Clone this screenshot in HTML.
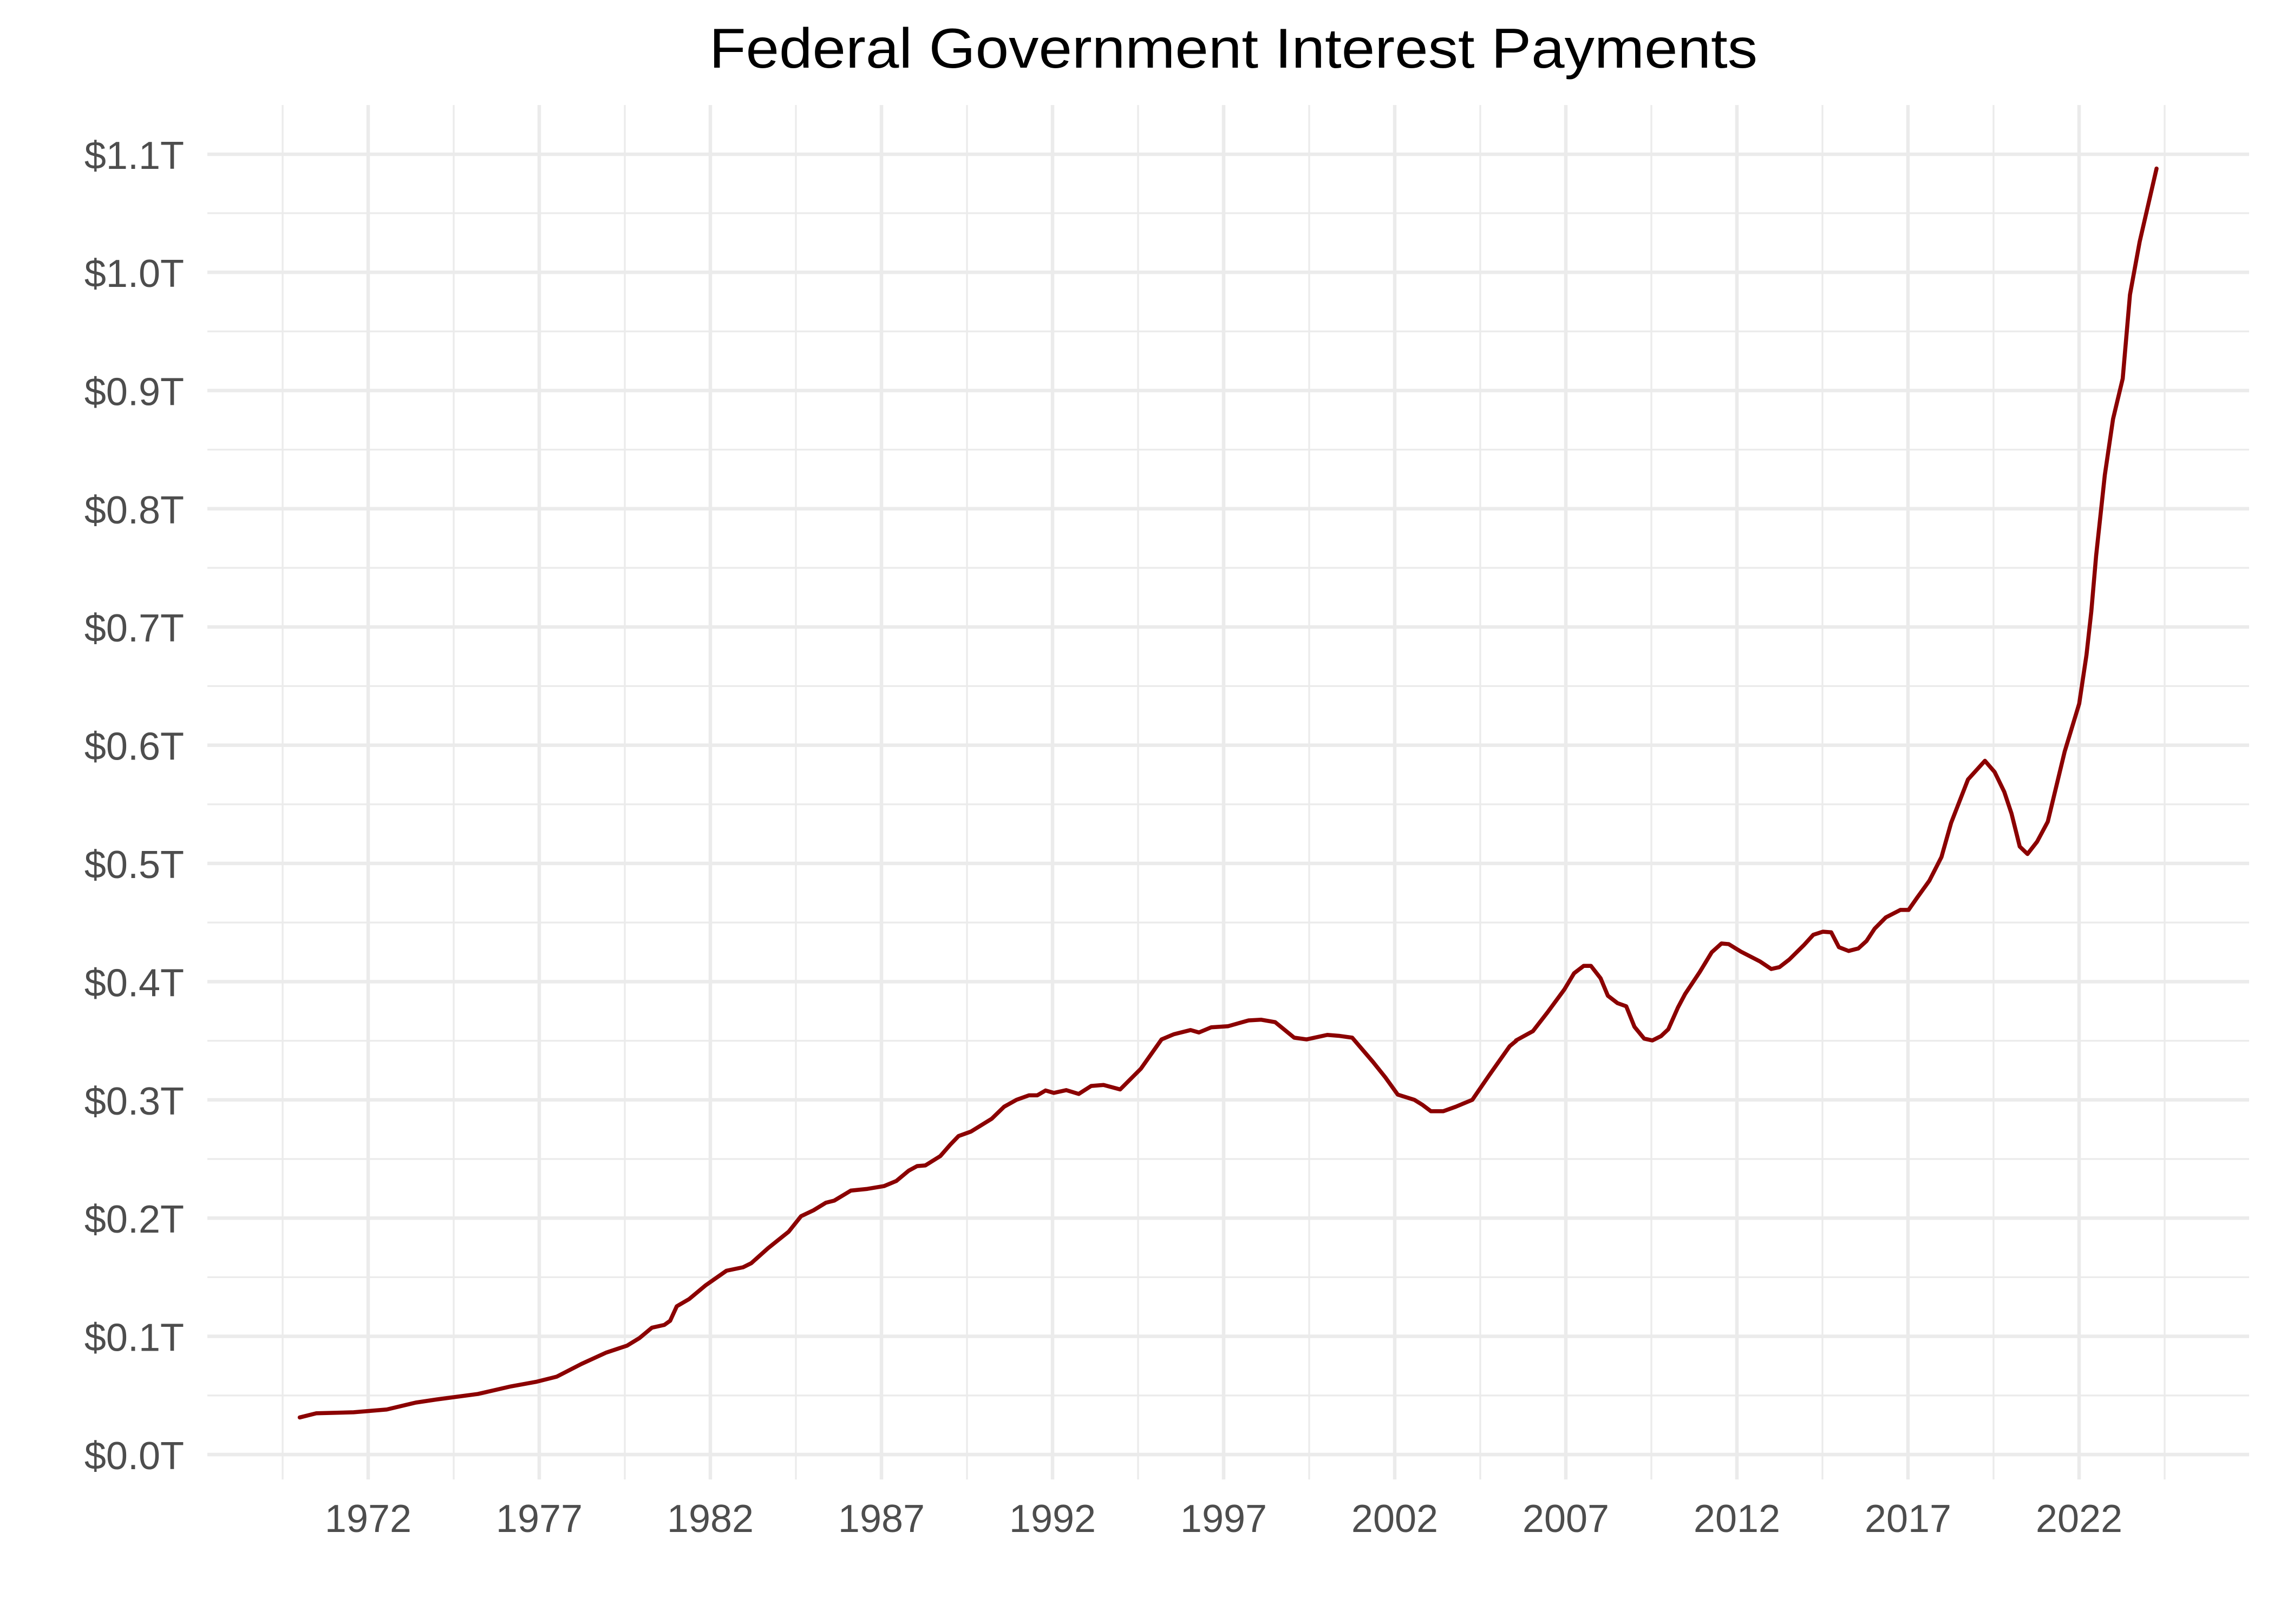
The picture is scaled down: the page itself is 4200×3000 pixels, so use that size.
<!DOCTYPE html>
<html><head><meta charset="utf-8"><style>
html,body{margin:0;padding:0;background:#fff;}
svg{display:block;}
</style></head><body>
<svg xmlns="http://www.w3.org/2000/svg" width="4200" height="3000" viewBox="0 0 4200 3000">
<rect width="4200" height="3000" fill="#fff"/>
<g stroke="#ebebeb" fill="none">
<g stroke-width="3.3">
<line x1="383" x2="4154" y1="2577.8" y2="2577.8"/>
<line x1="383" x2="4154" y1="2359.4" y2="2359.4"/>
<line x1="383" x2="4154" y1="2141" y2="2141"/>
<line x1="383" x2="4154" y1="1922.6" y2="1922.6"/>
<line x1="383" x2="4154" y1="1704.2" y2="1704.2"/>
<line x1="383" x2="4154" y1="1485.8" y2="1485.8"/>
<line x1="383" x2="4154" y1="1267.4" y2="1267.4"/>
<line x1="383" x2="4154" y1="1049" y2="1049"/>
<line x1="383" x2="4154" y1="830.6" y2="830.6"/>
<line x1="383" x2="4154" y1="612.2" y2="612.2"/>
<line x1="383" x2="4154" y1="393.8" y2="393.8"/>
<line y1="194" y2="2733" x1="522" x2="522"/>
<line y1="194" y2="2733" x1="838" x2="838"/>
<line y1="194" y2="2733" x1="1154" x2="1154"/>
<line y1="194" y2="2733" x1="1470" x2="1470"/>
<line y1="194" y2="2733" x1="1786" x2="1786"/>
<line y1="194" y2="2733" x1="2102" x2="2102"/>
<line y1="194" y2="2733" x1="2418" x2="2418"/>
<line y1="194" y2="2733" x1="2734" x2="2734"/>
<line y1="194" y2="2733" x1="3050" x2="3050"/>
<line y1="194" y2="2733" x1="3366" x2="3366"/>
<line y1="194" y2="2733" x1="3682" x2="3682"/>
<line y1="194" y2="2733" x1="3998" x2="3998"/>
</g>
<g stroke-width="6.5">
<line x1="383" x2="4154" y1="2687" y2="2687"/>
<line x1="383" x2="4154" y1="2468.6" y2="2468.6"/>
<line x1="383" x2="4154" y1="2250.2" y2="2250.2"/>
<line x1="383" x2="4154" y1="2031.8" y2="2031.8"/>
<line x1="383" x2="4154" y1="1813.4" y2="1813.4"/>
<line x1="383" x2="4154" y1="1595" y2="1595"/>
<line x1="383" x2="4154" y1="1376.6" y2="1376.6"/>
<line x1="383" x2="4154" y1="1158.2" y2="1158.2"/>
<line x1="383" x2="4154" y1="939.8" y2="939.8"/>
<line x1="383" x2="4154" y1="721.4" y2="721.4"/>
<line x1="383" x2="4154" y1="503" y2="503"/>
<line x1="383" x2="4154" y1="285" y2="285"/>
<line y1="194" y2="2733" x1="680" x2="680"/>
<line y1="194" y2="2733" x1="996" x2="996"/>
<line y1="194" y2="2733" x1="1312" x2="1312"/>
<line y1="194" y2="2733" x1="1628" x2="1628"/>
<line y1="194" y2="2733" x1="1944" x2="1944"/>
<line y1="194" y2="2733" x1="2260" x2="2260"/>
<line y1="194" y2="2733" x1="2576" x2="2576"/>
<line y1="194" y2="2733" x1="2892" x2="2892"/>
<line y1="194" y2="2733" x1="3208" x2="3208"/>
<line y1="194" y2="2733" x1="3524" x2="3524"/>
<line y1="194" y2="2733" x1="3840" x2="3840"/>
</g>
</g>
<g fill="none" stroke="#8b0000" stroke-width="7.5" stroke-linejoin="round" stroke-linecap="round">
<polyline vector-effect="non-scaling-stroke" transform="translate(500,1700) scale(1.5306,0.6378)" points="35,1440 55,1428 100,1425 140,1417 175,1397 200,1388 250,1372 290,1350 320,1337 345,1322 375,1285 405,1252 430,1232 445,1210 460,1180 475,1172 482,1160 490,1118 505,1097 525,1057 550,1015 570,1005 580,993 600,950 625,902 640,857 655,840 670,818 680,812 700,783 720,778 740,770 755,755 770,725 780,712 790,710 808,683 820,650 830,625 845,612 870,575 885,540 900,520 915,507 925,507 935,493 945,500 960,492 975,503 990,480 1005,477 1025,490 1050,430 1075,345 1090,330 1110,318 1120,325 1135,310 1155,307 1180,290 1195,288 1212,295 1235,340 1250,345 1275,332 1290,335 1305,340 1330,410 1345,455 1360,505 1380,520 1390,535 1400,553 1415,553 1430,540 1450,520 1470,450 1495,365 1503,349"/>
<polyline vector-effect="non-scaling-stroke" transform="translate(2800,200) scale(0.8929,1.148)" points="0,1500 35,1485 65,1455 100,1418 120,1392 140,1380 155,1380 175,1400 190,1428 210,1440 228,1445 245,1478 265,1497 282,1500 300,1493 315,1482 335,1447 350,1425 380,1390 405,1358 425,1344 440,1345 465,1357 505,1373 528,1385 545,1382 565,1370 595,1347 615,1330 635,1325 652,1326 668,1350 688,1356 708,1352 725,1340 742,1320 765,1302 795,1290 812,1290 830,1270 855,1243 880,1205 900,1150 935,1080 970,1050 990,1068 1010,1100 1025,1135 1042,1188 1058,1200 1078,1180 1100,1148 1135,1035 1165,958 1180,880 1190,810 1200,720 1218,590 1235,500 1255,435 1270,300 1290,215 1325,97"/>
</g>
<g font-family="'Liberation Sans', Arial, sans-serif" font-size="72" fill="#4d4d4d" text-anchor="end">
<text x="340" y="2714">$0.0T</text>
<text x="340" y="2495.6">$0.1T</text>
<text x="340" y="2277.2">$0.2T</text>
<text x="340" y="2058.8">$0.3T</text>
<text x="340" y="1840.4">$0.4T</text>
<text x="340" y="1622">$0.5T</text>
<text x="340" y="1403.6">$0.6T</text>
<text x="340" y="1185.2">$0.7T</text>
<text x="340" y="966.8">$0.8T</text>
<text x="340" y="748.4">$0.9T</text>
<text x="340" y="530">$1.0T</text>
<text x="340" y="312">$1.1T</text>
</g>
<g font-family="'Liberation Sans', Arial, sans-serif" font-size="72" fill="#4d4d4d" text-anchor="middle">
<text x="680" y="2830">1972</text>
<text x="996" y="2830">1977</text>
<text x="1312" y="2830">1982</text>
<text x="1628" y="2830">1987</text>
<text x="1944" y="2830">1992</text>
<text x="2260" y="2830">1997</text>
<text x="2576" y="2830">2002</text>
<text x="2892" y="2830">2007</text>
<text x="3208" y="2830">2012</text>
<text x="3524" y="2830">2017</text>
<text x="3840" y="2830">2022</text>
</g>
<text x="1310" y="125" font-family="'Liberation Sans', Arial, sans-serif" font-size="104" fill="#000" textLength="1936" lengthAdjust="spacingAndGlyphs">Federal Government Interest Payments</text>
</svg>
</body></html>
